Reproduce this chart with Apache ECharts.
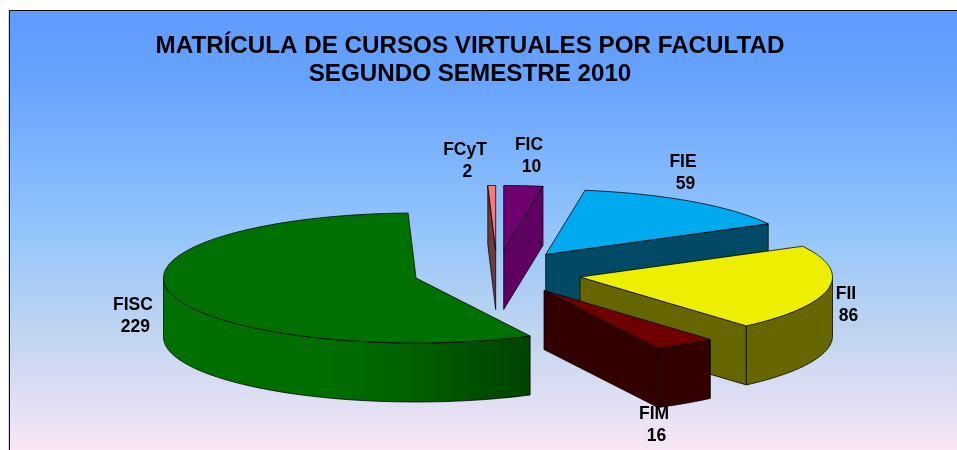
<!DOCTYPE html>
<html>
<head>
<meta charset="utf-8">
<style>html,body{margin:0;padding:0;background:#fff}#c{width:957px;height:450px}</style>
<script src="https://cdn.jsdelivr.net/npm/echarts@6/dist/echarts.min.js"></script>
</head>
<body>
<div id="c"></div>
<script>
// Chart data
const categories = ['FCyT', 'FIC', 'FIE', 'FII', 'FIM', 'FISC'];
const values = [2, 10, 59, 86, 16, 229];
const titleLines = ['MATRÍCULA DE CURSOS VIRTUALES POR FACULTAD', 'SEGUNDO SEMESTRE 2010'];

// Appearance and layout (separate from the values)
const topColors = ['#ff7878', '#6f006f', '#00aaee', '#eeee00', '#700000', '#007000'];
const wallColors = ['#6e3a3a', '#600060', '#004a66', '#666600', '#330000', '#004a00'];
const centers = [[495.7, 250.5], [503.7, 250.5], [545.7, 254.5], [580, 277], [544, 290.5], [416, 278]];
const labelAt = [[465, 161], [529, 156.5], [683, 173], [846, 305], [654, 425], [133, 316]];
const paintOrder = [0, 1, 5, 2, 3, 4];
const RX = 252.5, RY = 65, H = 59;

const total = values.reduce((a, b) => a + b, 0);
const sweeps = values.map(v => v / total * 2 * Math.PI);
const startAngle = -sweeps[0];
const bounds = [];
let acc = startAngle;
sweeps.forEach(s => { bounds.push([acc, acc + s]); acc += s; });

function rimPoint(c, t, dy) {
  return [c[0] + RX * Math.sin(t), c[1] - RY * Math.cos(t) + (dy || 0)];
}
function arc(c, a, b, dy) {
  const n = Math.max(2, Math.ceil(Math.abs(b - a) / 0.02));
  const out = [];
  for (let i = 0; i <= n; i++) out.push(rimPoint(c, a + (b - a) * i / n, dy));
  return out;
}
const LINE = { stroke: 'rgba(0,0,0,0.85)', lineWidth: 0.9, lineJoin: 'round' };

function poly(points, fill) {
  return { type: 'polygon', shape: { points }, style: Object.assign({ fill }, LINE) };
}
function wallFill(i, x0, x1) {
  if (categories[i] !== 'FISC') return wallColors[i];
  return {
    type: 'linear', x: x0, y: 0, x2: x1, y2: 0, global: true,
    colorStops: [
      { offset: 0, color: '#007000' }, { offset: 0.45, color: '#006e00' },
      { offset: 0.7, color: '#006000' }, { offset: 0.84, color: '#005000' },
      { offset: 1, color: '#004400' }
    ]
  };
}
function renderItem(params) {
  const i = paintOrder[params.dataIndex];
  const c = centers[i], a = bounds[i][0], b = bounds[i][1];
  const kids = [];
  const base = [c[0], c[1] + H];
  // radial cut faces that turn toward the viewer
  if (Math.cos(a - Math.PI / 2) < -1e-6) {
    const p = rimPoint(c, a);
    kids.push(poly([c, p, [p[0], p[1] + H], base], wallColors[i]));
  }
  if (Math.cos(b + Math.PI / 2) < -1e-6) {
    const p = rimPoint(c, b);
    kids.push(poly([c, p, [p[0], p[1] + H], base], wallColors[i]));
  }
  // outer rim wall, front half of the ellipse only
  const lo = Math.max(a, Math.PI / 2), hi = Math.min(b, 3 * Math.PI / 2);
  if (hi > lo) {
    const top = arc(c, lo, hi, 0), bot = arc(c, hi, lo, H);
    const xs = top.map(p => p[0]);
    kids.push(poly(top.concat(bot), wallFill(i, Math.min.apply(null, xs), Math.max.apply(null, xs))));
  }
  // top face
  kids.push(poly([c].concat(arc(c, a, b, 0)), topColors[i]));
  // data label
  kids.push({
    type: 'text', silent: true,
    style: {
      x: labelAt[i][0], y: labelAt[i][1], text: categories[i] + '\n ' + values[i],
      fill: '#000', font: 'bold 17.5px "Liberation Sans", Arial, sans-serif',
      lineHeight: 22, align: 'center', verticalAlign: 'middle'
    }
  });
  return { type: 'group', children: kids };
}

const chart = echarts.init(document.getElementById('c'), null, { renderer: 'canvas' });
chart.setOption({
  animation: false,
  title: {
    text: titleLines.join('\n'), left: 465, top: 27, textAlign: 'center',
    textStyle: { color: '#000', fontFamily: '"Liberation Sans", Arial, sans-serif', fontWeight: 'bold', fontSize: 24.2, lineHeight: 28 }
  },
  graphic: [
    { type: 'rect', z: 0, shape: { x: 9, y: 10, width: 948, height: 440 },
      style: { fill: { type: 'linear', x: 0, y: 0, x2: 0, y2: 1, colorStops: [
        { offset: 0, color: '#5e9bff' }, { offset: 0.15, color: '#66a2ff' },
        { offset: 0.5, color: '#93c5fb' }, { offset: 0.75, color: '#c3d6ef' },
        { offset: 1, color: '#f9e6f6' } ] } } },
    { type: 'line', z: 1, shape: { x1: 8.5, y1: 10, x2: 8.5, y2: 450 }, style: { stroke: '#d8d8d8', lineWidth: 1 } },
    { type: 'polyline', z: 1, shape: { points: [[9.5, 450], [9.5, 10.5], [957, 10.5]] }, style: { stroke: '#111', lineWidth: 1, fill: null } }
  ],
  series: [{
    type: 'custom', coordinateSystem: 'none', silent: true,
    renderItem,
    data: paintOrder.map(i => ({ name: categories[i], value: values[i] }))
  }]
});
</script>
</body>
</html>
